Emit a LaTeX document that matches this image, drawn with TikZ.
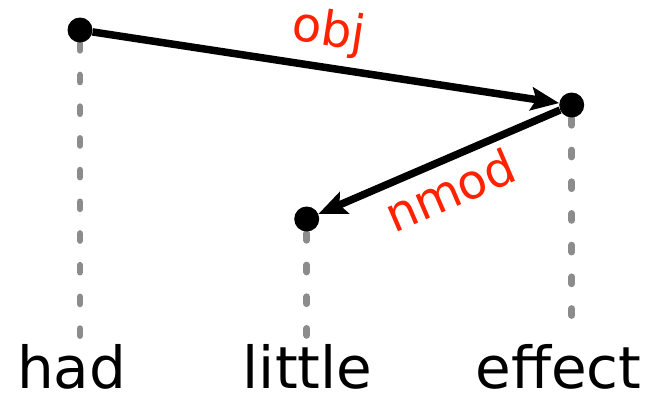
\documentclass[tikz,border=0pt]{standalone}
\usepackage{fontspec}
\setmainfont{DejaVu Sans}
\usetikzlibrary{arrows.meta}
\definecolor{labred}{RGB}{255,34,0}
\definecolor{guidegray}{RGB}{140,140,140}
\begin{document}
\begin{tikzpicture}[x=1pt,y=-1pt,
  dot/.style={circle,fill=black,minimum size=25pt,inner sep=0pt},
  guide/.style={draw=guidegray,line width=6.7pt,line cap=round,dash pattern=on 7pt off 24.7pt},
  arc/.style={draw=black,line width=7.5pt,-{Stealth[length=28pt,width=23pt,inset=5pt]}},
  lab/.style={text=labred,font=\fontsize{48}{52}\selectfont,inner sep=0pt,anchor=base},
  word/.style={font=\fontsize{58}{62}\selectfont,inner sep=0pt,anchor=base}]
\useasboundingbox (0,0) rectangle (652,394);
\coordinate (hadtop) at (80,43.3);
\coordinate (hadend) at (80,336);
\coordinate (efftop) at (571.7,118.3);
\coordinate (effend) at (571.7,316);
\coordinate (littop) at (306.7,233.3);
\coordinate (litend) at (306.7,336);
\draw[guide] (hadtop) -- (hadend);
\draw[guide] (efftop) -- (effend);
\draw[guide] (littop) -- (litend);
\node[dot] (had) at (80,30) {};
\node[dot] (effect) at (571.7,105) {};
\node[dot] (little) at (306.7,219) {};
\draw[arc] (had) -- (effect);
\draw[arc] (effect) -- (little);
\node[lab,rotate=-8.68] (objlab) at (326.7,45.3) {obj};
\node[lab,rotate=23.3] (nmodlab) at (457,206.6) {nmod};
\node[word] (w1) at (71.7,388) {had};
\node[word] (w2) at (307.6,388) {little};
\node[word] (w3) at (558.6,388) {effect};
\end{tikzpicture}
\end{document}
